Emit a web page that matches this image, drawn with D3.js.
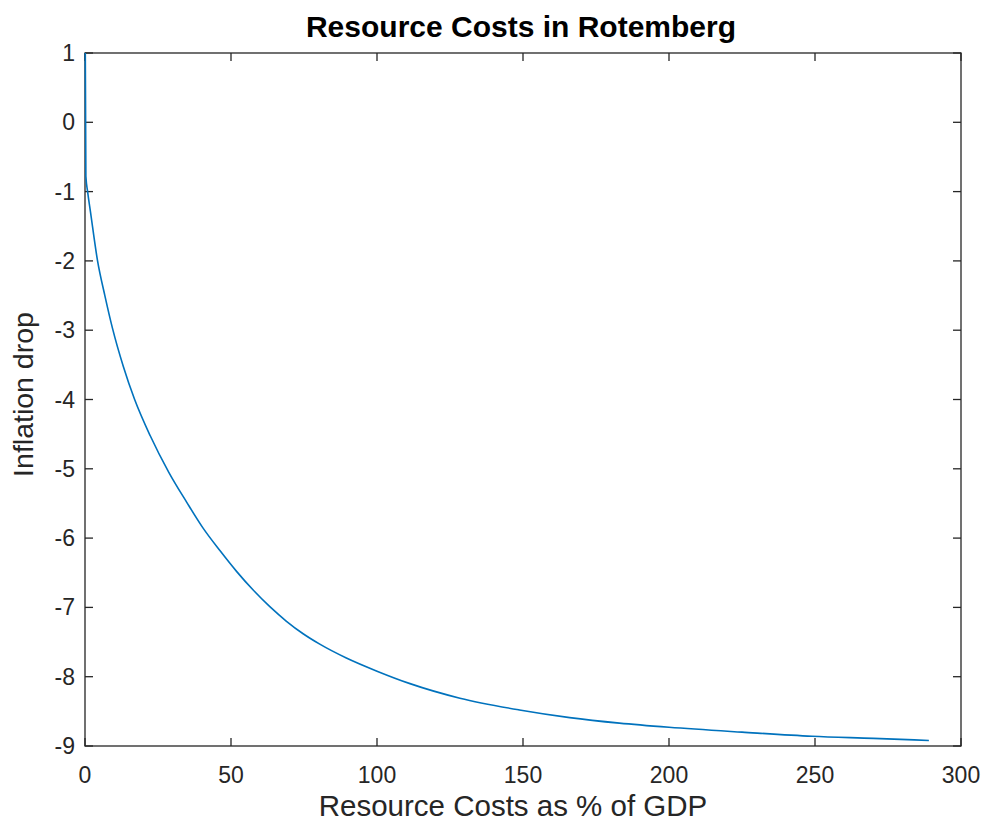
<!DOCTYPE html>
<html>
<head>
<meta charset="utf-8">
<script src="https://cdn.jsdelivr.net/npm/d3@7"></script>
<style>
  html, body { margin: 0; padding: 0; background: #fff; }
  svg { display: block; }
  text { font-family: "Liberation Sans", Arial, Helvetica, sans-serif; }
</style>
</head>
<body>
<svg id="chart" width="988" height="824"></svg>
<script>
// Resource costs (% of GDP) against the resulting inflation drop
const costPct = [0.1, 0.3, 0.9, 1.9, 4.3, 6.8, 9.4, 13.1, 17.0, 22.3, 28.7, 34.8, 40.5, 46.2,
  51.9, 57.6, 63.3, 69.0, 74.7, 80.4, 89.5, 100, 111.3, 128.4, 148.8, 166, 183, 200, 225, 249,
  270, 289];
const inflationDrop = [1, -0.78, -1.0, -1.30, -2.0, -2.50, -2.97, -3.52, -4.0, -4.52, -5.05,
  -5.48, -5.86, -6.18, -6.48, -6.75, -6.99, -7.20, -7.38, -7.53, -7.73, -7.92, -8.10, -8.31,
  -8.48, -8.59, -8.67, -8.73, -8.80, -8.86, -8.89, -8.92];

const xTicks = [0, 50, 100, 150, 200, 250, 300];
const yTicks = [1, 0, -1, -2, -3, -4, -5, -6, -7, -8, -9];

const titleText = "Resource Costs in Rotemberg";
const xLabelText = "Resource Costs as % of GDP";
const yLabelText = "Inflation drop";

const svg = d3.select("#chart");
const plotLeft = 85, plotRight = 961, plotTop = 53, plotBottom = 746;
const axisColor = "#262626";
const tickLen = 8;

const x = d3.scaleLinear().domain([0, 300]).range([plotLeft, plotRight]);
const y = d3.scaleLinear().domain([-9, 1]).range([plotBottom, plotTop]);

// box
svg.append("rect")
  .attr("x", plotLeft).attr("y", plotTop)
  .attr("width", plotRight - plotLeft).attr("height", plotBottom - plotTop)
  .attr("fill", "#fff").attr("stroke", axisColor).attr("stroke-width", 1.3);

const g = svg.append("g");

// ticks (inward, mirrored on the opposite sides)
xTicks.forEach(t => {
  const px = x(t);
  g.append("line").attr("x1", px).attr("x2", px).attr("y1", plotBottom).attr("y2", plotBottom - tickLen)
    .attr("stroke", axisColor).attr("stroke-width", 1.3);
  g.append("line").attr("x1", px).attr("x2", px).attr("y1", plotTop).attr("y2", plotTop + tickLen)
    .attr("stroke", axisColor).attr("stroke-width", 1.3);
  g.append("text").attr("x", px).attr("y", plotBottom + 37)
    .attr("text-anchor", "middle").attr("font-size", 23).attr("fill", axisColor).text(t);
});
yTicks.forEach(t => {
  const py = y(t);
  g.append("line").attr("x1", plotLeft).attr("x2", plotLeft + tickLen).attr("y1", py).attr("y2", py)
    .attr("stroke", axisColor).attr("stroke-width", 1.3);
  g.append("line").attr("x1", plotRight).attr("x2", plotRight - tickLen).attr("y1", py).attr("y2", py)
    .attr("stroke", axisColor).attr("stroke-width", 1.3);
  g.append("text").attr("x", plotLeft - 10).attr("y", py + 8)
    .attr("text-anchor", "end").attr("font-size", 23).attr("fill", axisColor).text(t);
});

// data line
const line = d3.line()
  .x((d, i) => x(costPct[i]))
  .y((d, i) => y(inflationDrop[i]))
  .curve(d3.curveMonotoneX);

svg.append("path")
  .datum(costPct)
  .attr("d", line)
  .attr("fill", "none")
  .attr("stroke", "#0072BD")
  .attr("stroke-width", 1.6);

// title and axis labels
svg.append("text").attr("x", (plotLeft + plotRight) / 2 - 2).attr("y", 37)
  .attr("text-anchor", "middle").attr("font-size", 30).attr("font-weight", "bold")
  .attr("fill", "#000").text(titleText);

svg.append("text").attr("x", (plotLeft + plotRight) / 2 - 10).attr("y", 816)
  .attr("text-anchor", "middle").attr("font-size", 29.5).attr("fill", axisColor).text(xLabelText);

svg.append("text")
  .attr("transform", `translate(33, ${(plotTop + plotBottom) / 2 - 5}) rotate(-90)`)
  .attr("text-anchor", "middle").attr("font-size", 28.5).attr("fill", axisColor).text(yLabelText);
</script>
</body>
</html>
